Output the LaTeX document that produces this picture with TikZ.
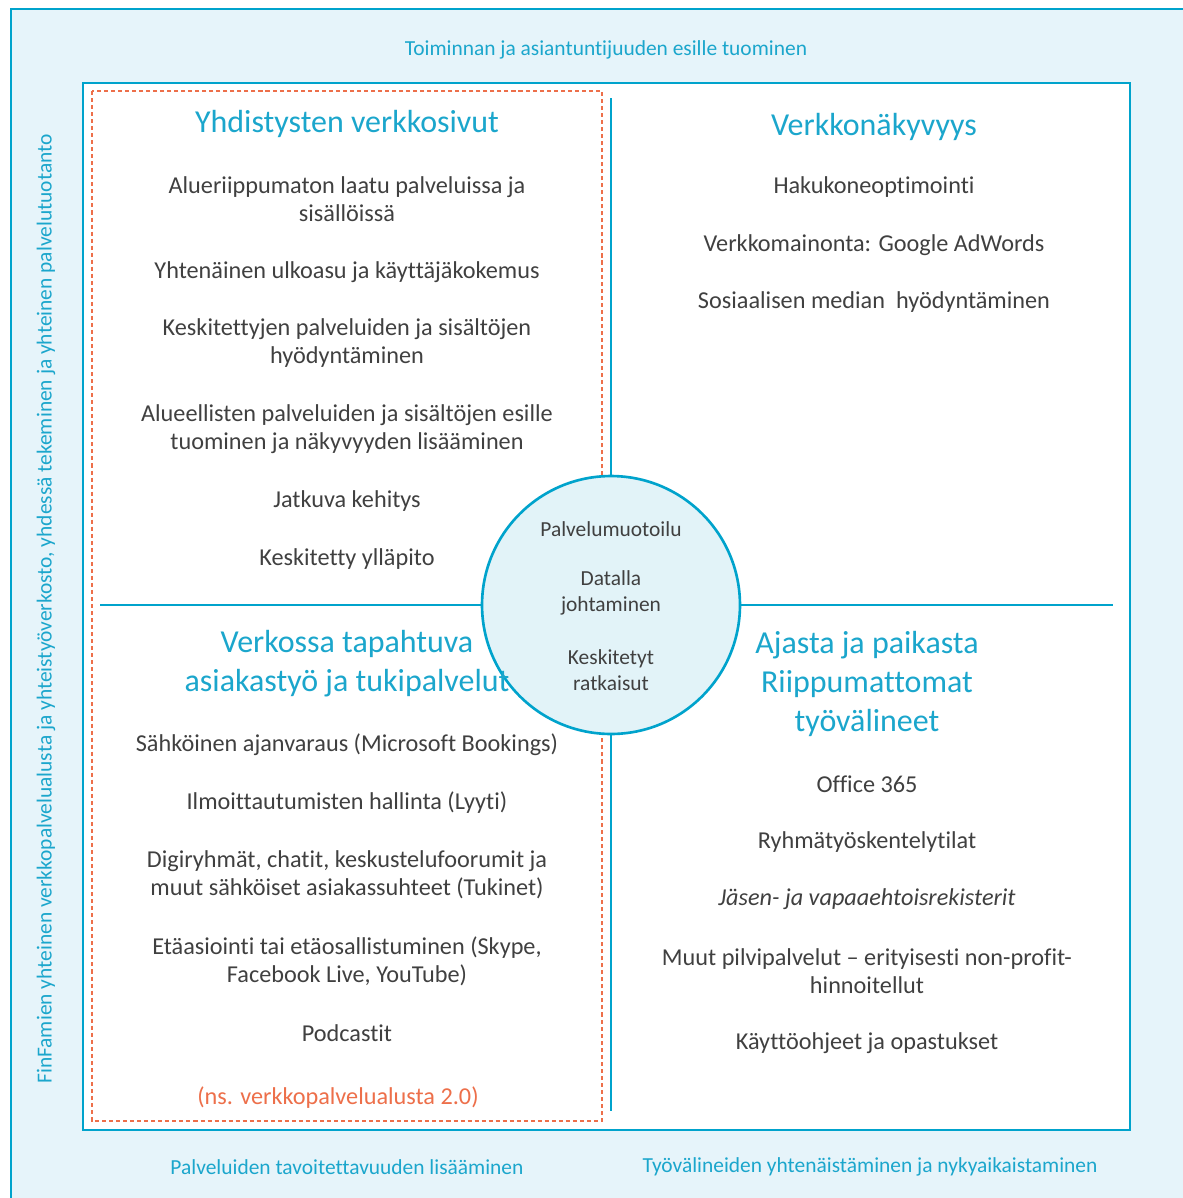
\documentclass[tikz,border=0pt]{standalone}
\usepackage{fontspec}
\setmainfont[Ligatures=NoCommon]{Carlito}
\usetikzlibrary{positioning}
\definecolor{finblue}{RGB}{0,163,204}
\definecolor{finhead}{RGB}{27,166,204}
\definecolor{finpale}{RGB}{230,244,250}
\definecolor{finhub}{RGB}{226,243,248}
\definecolor{fingray}{RGB}{64,64,64}
\definecolor{finorange}{RGB}{237,111,74}

\begin{document}
\begin{tikzpicture}[x=0.02cm,y=-0.02cm,
  txt/.style={text=fingray,align=center,font=\fontsize{13.8}{15.9}\selectfont,inner sep=0pt,yshift=-1.1pt},
  hd/.style={text=finhead,align=center,font=\fontsize{18.2}{22.2}\selectfont,inner sep=0pt,yshift=-1.1pt},
  side/.style={text=finhead,font=\fontsize{12.2}{14}\selectfont,inner sep=0pt,yshift=-1.1pt},
  hubtxt/.style={text=fingray,align=center,font=\fontsize{12.2}{14.8}\selectfont,inner sep=0pt,yshift=-0.6pt},
  frame/.style={draw=finblue,line width=1.5pt}]
  \useasboundingbox (0,0) rectangle (1183,1198);
  \clip (0,0) rectangle (1183,1198);
  \fill[white] (0,0) rectangle (1183,1198);
  \draw[frame,fill=finpale] (11,9) rectangle (1210,1220);
  \draw[frame,fill=white] (83,83) rectangle (1130,1130);
  \draw[finorange,line width=0.8pt,dash pattern=on 2.3pt off 1.7pt] (92,91) rectangle (602,1121);

  \node[circle,draw=finblue,fill=finhub,line width=1.5pt,minimum size=5.16cm] (hub) at (611,605) {};
  \coordinate (vtop) at (611,98);
  \coordinate (vbot) at (611,1111);
  \coordinate (hleft) at (100,605);
  \coordinate (hright) at (1113,605);
  \draw[finblue,line width=1.5pt] (vtop) -- (hub.north);
  \draw[finblue,line width=1.5pt] (hub.south) -- (vbot);
  \draw[finblue,line width=1.5pt] (hleft) -- (hub.west);
  \draw[finblue,line width=1.5pt] (hub.east) -- (hright);

  \node[hubtxt] (h1) at (611,528) {Palvelumuotoilu};
  \node[hubtxt] (h2) at (611,592) {Datalla\\johtaminen};
  \node[hubtxt] (h3) at (611,669) {Keskitetyt\\ratkaisut};

  \node[side] (top) at (606,48) {Toiminnan ja asiantuntijuuden esille tuominen};
  \node[side] (botl) at (347,1165) {Palveluiden tavoitettavuuden lisääminen};
  \node[side] (botr) at (870,1165) {Työvälineiden yhtenäistäminen ja nykyaikaistaminen};
  \node[side,rotate=90,yshift=1.1pt] (left) at (48,607) {FinFamien yhteinen verkkopalvelualusta ja yhteistyöverkosto, yhdessä tekeminen ja yhteinen palvelutuotanto};

  \node[hd] (q1) at (347,122) {Yhdistysten verkkosivut};
  \node[txt] (a1) at (347,197) {Alueriippumaton laatu palveluissa ja\\sisällöissä};
  \node[txt] (a2) at (347,270) {Yhtenäinen ulkoasu ja käyttäjäkokemus};
  \node[txt] (a3) at (347,341) {Keskitettyjen palveluiden ja sisältöjen\\hyödyntäminen};
  \node[txt] (a4) at (347,427) {Alueellisten palveluiden ja sisältöjen esille\\tuominen ja näkyvyyden lisääminen};
  \node[txt] (a5) at (347,499) {Jatkuva kehitys};
  \node[txt] (a6) at (347,557) {Keskitetty ylläpito};

  \node[hd] (q2) at (874,125) {Verkkonäkyvyys};
  \node[txt] (b1) at (874,185) {Hakukoneoptimointi};
  \node[txt] (b2) at (874,243) {Verkkomainonta: Google AdWords};
  \node[txt] (b3) at (874,300) {Sosiaalisen median~ hyödyntäminen};

  \node[hd] (q3) at (347,662) {Verkossa tapahtuva\\asiakastyö ja tukipalvelut};
  \node[txt] (c1) at (347,743) {Sähköinen ajanvaraus (Microsoft Bookings)};
  \node[txt] (c2) at (347,801) {Ilmoittautumisten hallinta (Lyyti)};
  \node[txt] (c3) at (347,873) {Digiryhmät, chatit, keskustelufoorumit ja\\muut sähköiset asiakassuhteet (Tukinet)};
  \node[txt] (c4) at (347,959) {Etäasiointi tai etäosallistuminen (Skype,\\Facebook Live, YouTube)};
  \node[txt] (c5) at (347,1031) {Podcastit};
  \node[txt,text=finorange] (c6) at (338,1096) {(ns. verkkopalvelualusta 2.0)};

  \node[hd] (q4) at (867,682) {Ajasta ja paikasta\\Riippumattomat\\työvälineet};
  \node[txt] (d1) at (867,782) {Office 365};
  \node[txt] (d2) at (867,840) {Ryhmätyöskentelytilat};
  \node[txt,font=\fontsize{13.8}{15.9}\selectfont\itshape] (d3) at (867,897) {Jäsen- ja vapaaehtoisrekisterit};
  \node[txt] (d4) at (867,969) {Muut pilvipalvelut – erityisesti non-profit-\\hinnoitellut};
  \node[txt] (d5) at (867,1041) {Käyttöohjeet ja opastukset};
\end{tikzpicture}
\end{document}
